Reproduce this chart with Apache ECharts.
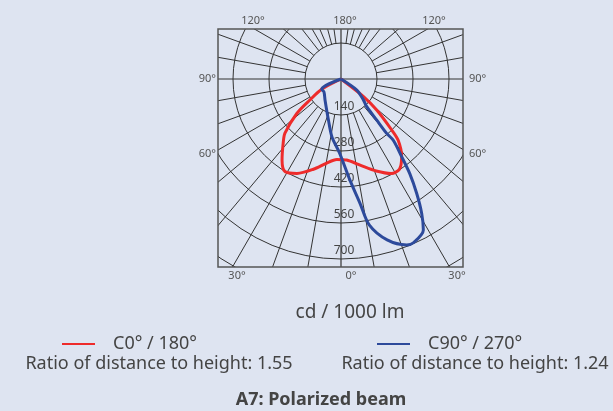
<!DOCTYPE html>
<html>
<head>
<meta charset="utf-8">
<script src="https://cdn.jsdelivr.net/npm/echarts@6/dist/echarts.min.js"></script>
<style>
  html, body { margin: 0; padding: 0; background: #dee4f1; }
  #chart { width: 613px; height: 411px; }
</style>
</head>
<body>
<div id="chart"></div>
<script>
  // C-plane curves, gamma in degrees (0 = straight down, + = right side), values in cd / 1000 lm
  var redGamma = [-62, -62, -56, -52, -46, -42, -36, -31, -25, -17, -10, -3, 4, 12.5, 21, 28, 33, 38, 43, 45, 49, 52, 52];
  var redCd    = [0, 85, 146, 218, 303, 336, 390, 421, 405, 367, 333, 313, 316, 343, 383, 416, 418, 383, 326, 275, 184, 111, 0];
  var blueGamma = [-62, -62, -53, -37, -17, -9, -1, 5, 8.7, 11, 16, 21.6, 24, 28.6, 31, 33.5, 36, 38, 40.5, 40, 41, 43, 47, 55, 55];
  var blueCd    = [0, 85, 83, 103, 167, 227, 289, 394, 489, 579, 651, 694, 696, 669, 609, 533, 455, 383, 313, 276, 211, 147, 119, 75, 0];

  var seriesNames = ['C0° / 180°', 'C90° / 270°'];
  var ratioTexts = ['Ratio of distance to height: 1.55', 'Ratio of distance to height: 1.24'];

  // ring labels and the grid spokes (spokes start on the first ring, axes go through the centre)
  var ringLabels = [140, 280, 420, 560, 700];
  var spokeAngles = [10, 20, 30, 40, 50, 60, 70, 80, 100, 110, 120, 131, 142, 150, 157, 165, 172];
  var axisAngles = [0, 90, 180, -90];
  var angleLabels = [
    { text: '120°', x: 253, y: 21, align: 'center' },
    { text: '180°', x: 345, y: 21, align: 'center' },
    { text: '120°', x: 434, y: 21, align: 'center' },
    { text: '90°', x: 216, y: 79, align: 'right' },
    { text: '90°', x: 469, y: 79, align: 'left' },
    { text: '60°', x: 216, y: 154, align: 'right' },
    { text: '60°', x: 469, y: 154, align: 'left' },
    { text: '30°', x: 237, y: 276, align: 'center' },
    { text: '0°', x: 351, y: 276, align: 'center' },
    { text: '30°', x: 457, y: 276, align: 'center' }
  ];

  var bg = '#dee4f1';
  var gridColor = '#333';
  var box = { x: 218, y: 29, w: 245, h: 238 };

  function toAxis(g) { return g < 0 ? 360 + g : g; }
  function curve(gam, cd) {
    return gam.map(function (g, i) { return [cd[i], toAxis(g)]; });
  }

  var series = [];
  spokeAngles.forEach(function (a) {
    [a, -a].forEach(function (g) {
      series.push({
        type: 'line', coordinateSystem: 'polar', silent: true, symbol: 'none', z: 1,
        lineStyle: { color: gridColor, width: 1 },
        data: [[140, toAxis(g)], [980, toAxis(g)]]
      });
    });
  });
  axisAngles.forEach(function (g) {
    series.push({
      type: 'line', coordinateSystem: 'polar', silent: true, symbol: 'none', z: 1,
      lineStyle: { color: gridColor, width: 1.2 },
      data: [[0, toAxis(g)], [980, toAxis(g)]]
    });
  });
  series.push({
    name: seriesNames[0], type: 'line', coordinateSystem: 'polar', symbol: 'none', smooth: 0.3, z: 3,
    itemStyle: { color: '#ee2b2b' },
    lineStyle: { color: '#ee2b2b', width: 3 },
    data: curve(redGamma, redCd)
  });
  series.push({
    name: seriesNames[1], type: 'line', coordinateSystem: 'polar', symbol: 'none', smooth: 0.3, z: 4,
    itemStyle: { color: '#2d4a9b' },
    lineStyle: { color: '#2d4a9b', width: 3 },
    data: curve(blueGamma, blueCd)
  });

  // masks outside the frame, the frame itself and the texts
  var graphics = [
    { type: 'rect', z: 50, shape: { x: 0, y: 0, width: 613, height: box.y }, style: { fill: bg } },
    { type: 'rect', z: 50, shape: { x: 0, y: box.y + box.h, width: 613, height: 411 - box.y - box.h }, style: { fill: bg } },
    { type: 'rect', z: 50, shape: { x: 0, y: box.y, width: box.x, height: box.h }, style: { fill: bg } },
    { type: 'rect', z: 50, shape: { x: box.x + box.w, y: box.y, width: 613 - box.x - box.w, height: box.h }, style: { fill: bg } },
    { type: 'rect', z: 60, shape: { x: box.x, y: box.y, width: box.w, height: box.h }, style: { fill: null, stroke: '#555', lineWidth: 1.5 } }
  ];
  angleLabels.forEach(function (l) {
    graphics.push({
      type: 'text', z: 200, x: l.x, y: l.y,
      style: { text: l.text, fill: '#555', font: '11px "Noto Sans"', textAlign: l.align, textVerticalAlign: 'middle' }
    });
  });
  graphics.push({
    type: 'text', z: 200, x: 159, y: 364,
    style: { text: ratioTexts[0], fill: '#444', font: '18px "Noto Sans"', textAlign: 'center', textVerticalAlign: 'middle' }
  });
  graphics.push({
    type: 'text', z: 200, x: 475, y: 364,
    style: { text: ratioTexts[1], fill: '#444', font: '18px "Noto Sans"', textAlign: 'center', textVerticalAlign: 'middle' }
  });

  var legendText = { fontSize: 18, color: '#444', fontFamily: 'Noto Sans', padding: [0, 0, 0, 13] };

  var option = {
    backgroundColor: bg,
    animation: false,
    title: [
      { text: 'cd / 1000 lm', left: 345, textAlign: 'center', top: 298, z: 200,
        textStyle: { fontSize: 19, fontWeight: 'normal', color: '#444', fontFamily: 'Noto Sans' } },
      { text: 'A7: Polarized beam', left: 316, textAlign: 'center', top: 386, z: 200,
        textStyle: { fontSize: 18, fontWeight: 'bold', color: '#444', fontFamily: 'Noto Sans' } }
    ],
    legend: [
      { data: [seriesNames[0]], left: 57, top: 330, z: 200, icon: 'rect', itemWidth: 33, itemHeight: 2, textStyle: legendText },
      { data: [seriesNames[1]], left: 372, top: 330, z: 200, icon: 'rect', itemWidth: 33, itemHeight: 2, textStyle: legendText }
    ],
    polar: { center: [341, 79], radius: 252 },
    angleAxis: {
      type: 'value', min: 0, max: 360, startAngle: 270, clockwise: false,
      axisLine: { show: false }, axisTick: { show: false }, axisLabel: { show: false }, splitLine: { show: false }
    },
    radiusAxis: {
      type: 'value', min: 0, max: 980, interval: 140,
      axisLine: { show: false }, axisTick: { show: false },
      splitLine: { show: true, lineStyle: { color: gridColor, width: 1 } },
      axisLabel: {
        show: true, rotate: 0, margin: 0, align: 'center', verticalAlign: 'bottom',
        padding: [0, 0, 2, 6], color: '#444', fontSize: 12, fontFamily: 'Noto Sans',
        formatter: function (v) { return ringLabels.indexOf(v) >= 0 ? String(v) : ''; }
      }
    },
    graphic: graphics,
    series: series
  };

  var myChart = echarts.init(document.getElementById('chart'));
  myChart.setOption(option);
</script>
</body>
</html>
